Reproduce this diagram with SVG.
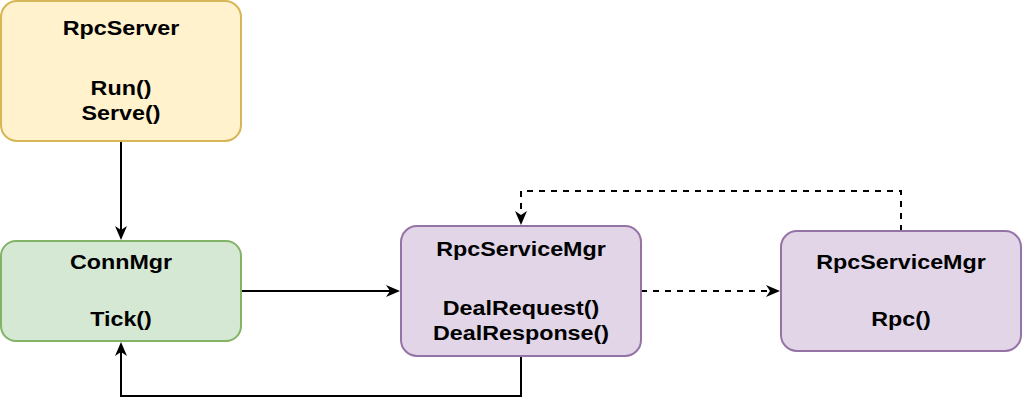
<svg xmlns="http://www.w3.org/2000/svg" width="1022" height="414" viewBox="0 0 1022 414">
<defs>
<style>
.t{font-family:"Liberation Sans",Arial,sans-serif;font-weight:bold;font-size:21px;fill:#000;text-anchor:middle}
.e{fill:none;stroke:#000;stroke-width:2}
.d{stroke-dasharray:6 6}
.h{fill:#000}
</style>
</defs>
<rect width="1022" height="414" fill="#fff"/>
<g id="connectors">
<path class="e" d="M121,141 V235"/>
<path class="h" d="M121,240 L115,226 L121,230 L127,226 Z"/>
<path class="e" d="M241,291 H395"/>
<path class="h" d="M400,291 L386,285 L390,291 L386,297 Z"/>
<path class="e d" d="M641,291 H775"/>
<path class="h" d="M780,291 L766,285 L770,291 L766,297 Z"/>
<path class="e d" d="M901,231 V191 H521 V220"/>
<path class="h" d="M521,225 L515,211 L521,215 L527,211 Z"/>
<path class="e" d="M521,356 V396 H121 V347"/>
<path class="h" d="M121,342 L115,356 L121,352 L127,356 Z"/>
</g>
<g id="rpcserver">
<rect x="1" y="1" width="240" height="140" rx="16" fill="#fff2cc" stroke="#d6b656" stroke-width="2"/>
<text class="t" transform="matrix(1.11 0 0 1 121 35)">RpcServer</text>
<text class="t" transform="matrix(1.11 0 0 1 121 94.5)">Run()</text>
<text class="t" transform="matrix(1.11 0 0 1 121 120)">Serve()</text>
</g>
<g id="connmgr">
<rect x="1" y="241" width="240" height="100" rx="15" fill="#d5e8d4" stroke="#82b366" stroke-width="2"/>
<text class="t" transform="matrix(1.11 0 0 1 121 268.5)">ConnMgr</text>
<text class="t" transform="matrix(1.11 0 0 1 121 325.5)">Tick()</text>
</g>
<g id="rpcservicemgr1">
<rect x="401" y="226" width="240" height="130" rx="16" fill="#e1d5e7" stroke="#9673a6" stroke-width="2"/>
<text class="t" transform="matrix(1.11 0 0 1 521 255.5)">RpcServiceMgr</text>
<text class="t" transform="matrix(1.11 0 0 1 521 314.5)">DealRequest()</text>
<text class="t" transform="matrix(1.11 0 0 1 521 339.5)">DealResponse()</text>
</g>
<g id="rpcservicemgr2">
<rect x="781" y="231" width="240" height="120" rx="16" fill="#e1d5e7" stroke="#9673a6" stroke-width="2"/>
<text class="t" transform="matrix(1.11 0 0 1 901 268.5)">RpcServiceMgr</text>
<text class="t" transform="matrix(1.11 0 0 1 901 325.5)">Rpc()</text>
</g>
</svg>
